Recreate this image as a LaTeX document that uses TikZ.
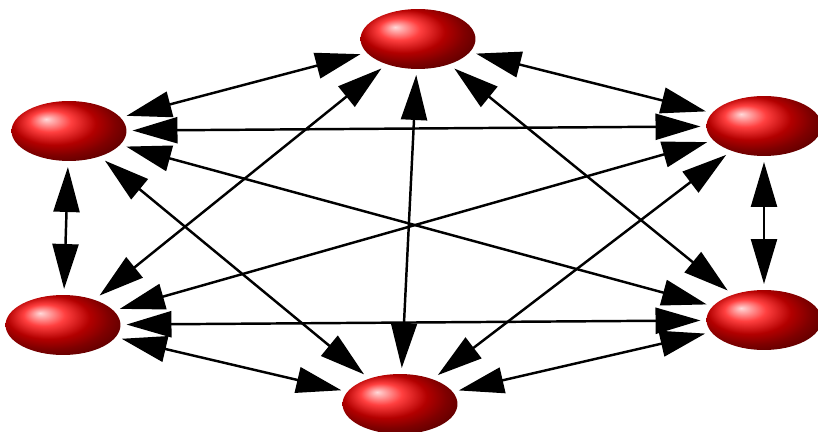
\documentclass[tikz,border=0pt]{standalone}
\usetikzlibrary{arrows.meta,shapes.geometric}

\begin{document}
\begin{tikzpicture}[x=0.02cm,y=-0.02cm,
every node/.style={ellipse,minimum width=2.3cm,minimum height=1.2cm,inner sep=0,
  outer sep=0.12cm,ball color=red},
link/.style={line width=1.4pt,{Triangle[length=0.9cm,width=0.52cm]}-{Triangle[length=0.9cm,width=0.52cm]}}]
\useasboundingbox (0,0) rectangle (818,432);

\node (T) at (418,39) {};
\node (UL) at (69,131) {};
\node (UR) at (764,126) {};
\node (LL) at (63,325) {};
\node (LR) at (764,320) {};
\node (B) at (400,404) {};

\draw[link] (T)--(UL);
\draw[link] (T)--(UR);
\draw[link] (T)--(B);
\draw[link] (T)--(LL);
\draw[link] (T)--(LR);
\draw[link] (UL)--(UR);
\draw[link] (UL)--(LL);
\draw[link] (UL)--(LR);
\draw[link] (UL)--(B);
\draw[link] (UR)--(LR);
\draw[link] (UR)--(LL);
\draw[link] (UR)--(B);
\draw[link] (LL)--(LR);
\draw[link] (LL)--(B);
\draw[link] (LR)--(B);

\end{tikzpicture}
\end{document}
